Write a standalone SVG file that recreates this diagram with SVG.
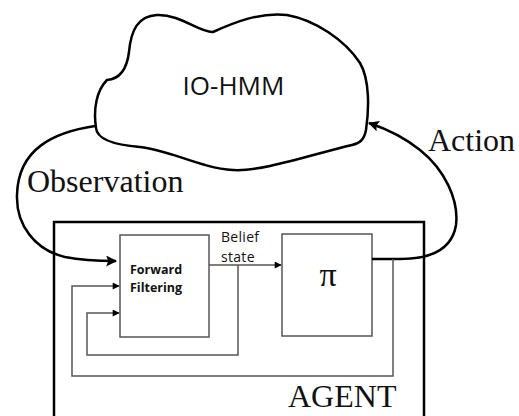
<svg xmlns="http://www.w3.org/2000/svg" width="519" height="416" viewBox="0 0 519 416">
<style>
.thick{fill:none;stroke:#000;stroke-width:2.5}
.thin{fill:none;stroke:#555;stroke-width:1.5}
.box{fill:#fff;stroke:#555;stroke-width:1.5}
.times{font-family:"Liberation Serif",serif;fill:#111}
.sans{font-family:"Open Sans","Liberation Sans",sans-serif;fill:#111}
</style>
<defs>
<marker id="big" viewBox="0 0 10 10" refX="9" refY="5" markerWidth="17" markerHeight="11" markerUnits="userSpaceOnUse" orient="auto">
<path d="M0,0 L10,5 L0,10 L2,5 Z" fill="#000"/>
</marker>
<marker id="small" viewBox="0 0 10 10" refX="9" refY="5" markerWidth="9" markerHeight="7" markerUnits="userSpaceOnUse" orient="auto">
<path d="M0,0 L10,5 L0,10 Z" fill="#000"/>
</marker>
</defs>
<rect width="519" height="416" fill="#fff"/>
<g id="agent">
<rect x="54" y="222" width="370" height="210" fill="none" stroke="#000" stroke-width="2.5"/>
<text class="times" x="288" y="407" font-size="32">AGENT</text>
</g>
<g id="io-hmm">
<path class="thick" d="M107,80 C120,79 127,68 129,52 C131,30 138,16 157,15 C180,14 200,33 213,32 C235,22 260,12 287,15 C315,20 345,40 360,63 C370,80 369,110 366,130 C364,140 360,143 352,145 C310,155 260,172 233,170 C200,168 170,150 140,147 C115,145 97,140 96,128 C93,108 97,90 107,80 Z" fill="#fff"/>
<text class="sans" x="233.5" y="95" font-size="26" text-anchor="middle">IO-HMM</text>
</g>
<g id="forward-filtering">
<rect class="box" x="120" y="235" width="89" height="102"/>
<text class="sans" x="130" y="274" font-size="12.5" font-weight="bold">Forward</text>
<text class="sans" x="130" y="292" font-size="12.5" font-weight="bold">Filtering</text>
</g>
<g id="policy">
<rect class="box" x="282" y="234" width="90" height="102"/>
<text class="times" x="328" y="286" font-size="34" text-anchor="middle">π</text>
</g>
<g id="connectors">
<path class="thick" d="M95,126 C55,132 18,148 17,195 C16,225 35,250 65,257 C80,260 95,261 116,261" marker-end="url(#big)"/>
<path class="thick" d="M372,259 L400,259 C430,259 452,250 456,225 C459,200 445,170 420,150 C405,138 390,130 369,123" marker-end="url(#big)"/>
<path class="thin" stroke="#444" d="M209,265 L281,265" marker-end="url(#small)"/>
<path class="thin" d="M238,265 L238,355 L87,355 L87,313 L119,313" marker-end="url(#small)"/>
<path class="thin" d="M393,259 L393,376 L72,376 L72,286 L119,286" marker-end="url(#small)"/>
<text class="sans" x="221" y="242" font-size="14" letter-spacing="0.3">Belief</text>
<text class="sans" x="221" y="262" font-size="14" letter-spacing="0.3">state</text>
<text class="times" x="27" y="192" font-size="32">Observation</text>
<text class="times" x="428" y="151" font-size="32">Action</text>
</g>
</svg>
